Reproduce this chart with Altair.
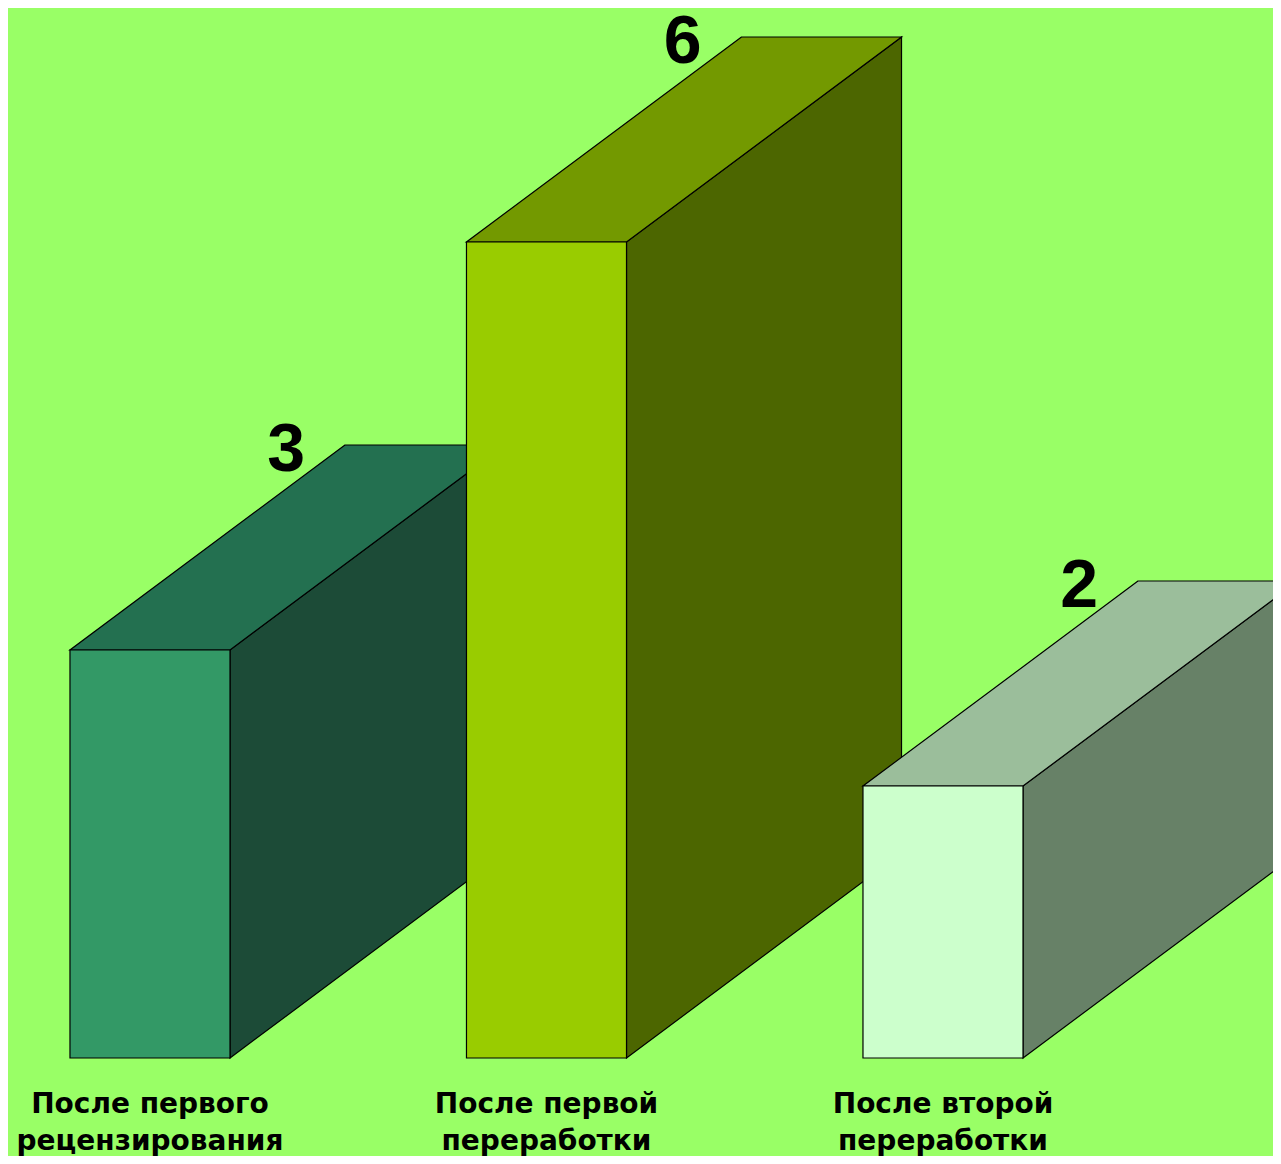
import altair as alt
import pandas as pd

# ---- data ----
categories = ["После первого\nрецензирования", "После первой\nпереработки", "После второй\nпереработки"]
values = [3, 6, 2]
front_colors = ["#339966", "#99CC00", "#CCFFCC"]
top_colors = ["#237050", "#739900", "#9BBE9B"]
side_colors = ["#1C4B37", "#4C6600", "#678167"]

# ---- geometry (data units) ----
HALF_W = 0.2018      # half width of front face (x units)
DX = 0.6936          # depth offset in x units
DY = 1.5074          # depth offset in y units

x_scale = alt.Scale(domain=[-0.3581, 2.8323], nice=False, zero=False)
y_scale = alt.Scale(domain=[-0.7206, 7.7206], nice=False, zero=False)
no_axis = None

layers = []
for i, (cat, v) in enumerate(zip(categories, values)):
    x0, x1 = i - HALF_W, i + HALF_W
    front = pd.DataFrame({"x": [x0], "x2": [x1], "y": [0.0], "y2": [float(v)]})
    side = pd.DataFrame({"x": [x1, x1 + DX], "y": [0.0, DY], "y2": [float(v), v + DY]})
    top = pd.DataFrame({"y": [float(v), v + DY], "x": [x0, x0 + DX], "x2": [x1, x1 + DX]})

    layers.append(
        alt.Chart(side).mark_area(color=side_colors[i], stroke="black", strokeWidth=1.2, opacity=1)
        .encode(x=alt.X("x:Q", scale=x_scale, axis=no_axis),
                y=alt.Y("y:Q", scale=y_scale, axis=no_axis), y2="y2:Q")
    )
    layers.append(
        alt.Chart(top).mark_area(orient="horizontal", color=top_colors[i], stroke="black", strokeWidth=1.2, opacity=1)
        .encode(y=alt.Y("y:Q", scale=y_scale, axis=no_axis),
                x=alt.X("x:Q", scale=x_scale, axis=no_axis), x2="x2:Q")
    )
    layers.append(
        alt.Chart(front).mark_rect(color=front_colors[i], stroke="black", strokeWidth=1.2)
        .encode(x=alt.X("x:Q", scale=x_scale, axis=no_axis), x2="x2:Q",
                y=alt.Y("y:Q", scale=y_scale, axis=no_axis), y2="y2:Q")
    )

value_df = pd.DataFrame({
    "x": [i - HALF_W + 0.545 for i in range(len(values))],
    "y": [v + 1.316 for v in values],
    "label": [str(v) for v in values],
})
value_text = alt.Chart(value_df).mark_text(
    font="Liberation Sans", fontWeight="bold", fontSize=68, color="black",
    align="center", baseline="alphabetic"
).encode(x=alt.X("x:Q", scale=x_scale, axis=no_axis),
         y=alt.Y("y:Q", scale=y_scale, axis=no_axis), text="label:N")

cat_df = pd.DataFrame({
    "x": list(range(len(categories))),
    "y": [-0.404] * len(categories),
    "label": categories,
})
cat_text = alt.Chart(cat_df).mark_text(
    font="DejaVu Sans", fontWeight="bold", fontSize=28, color="black",
    align="center", baseline="alphabetic", lineBreak="\n", lineHeight=37
).encode(x=alt.X("x:Q", scale=x_scale, axis=no_axis),
         y=alt.Y("y:Q", scale=y_scale, axis=no_axis), text="label:N")

chart = alt.layer(*layers, value_text, cat_text).properties(
    width=1265, height=1148, background="#99FF66",
    autosize=alt.AutoSizeParams(type="none"), padding=0
).configure_view(stroke=None)

chart.save("out.html", embed_options={"renderer": "svg", "actions": False})
